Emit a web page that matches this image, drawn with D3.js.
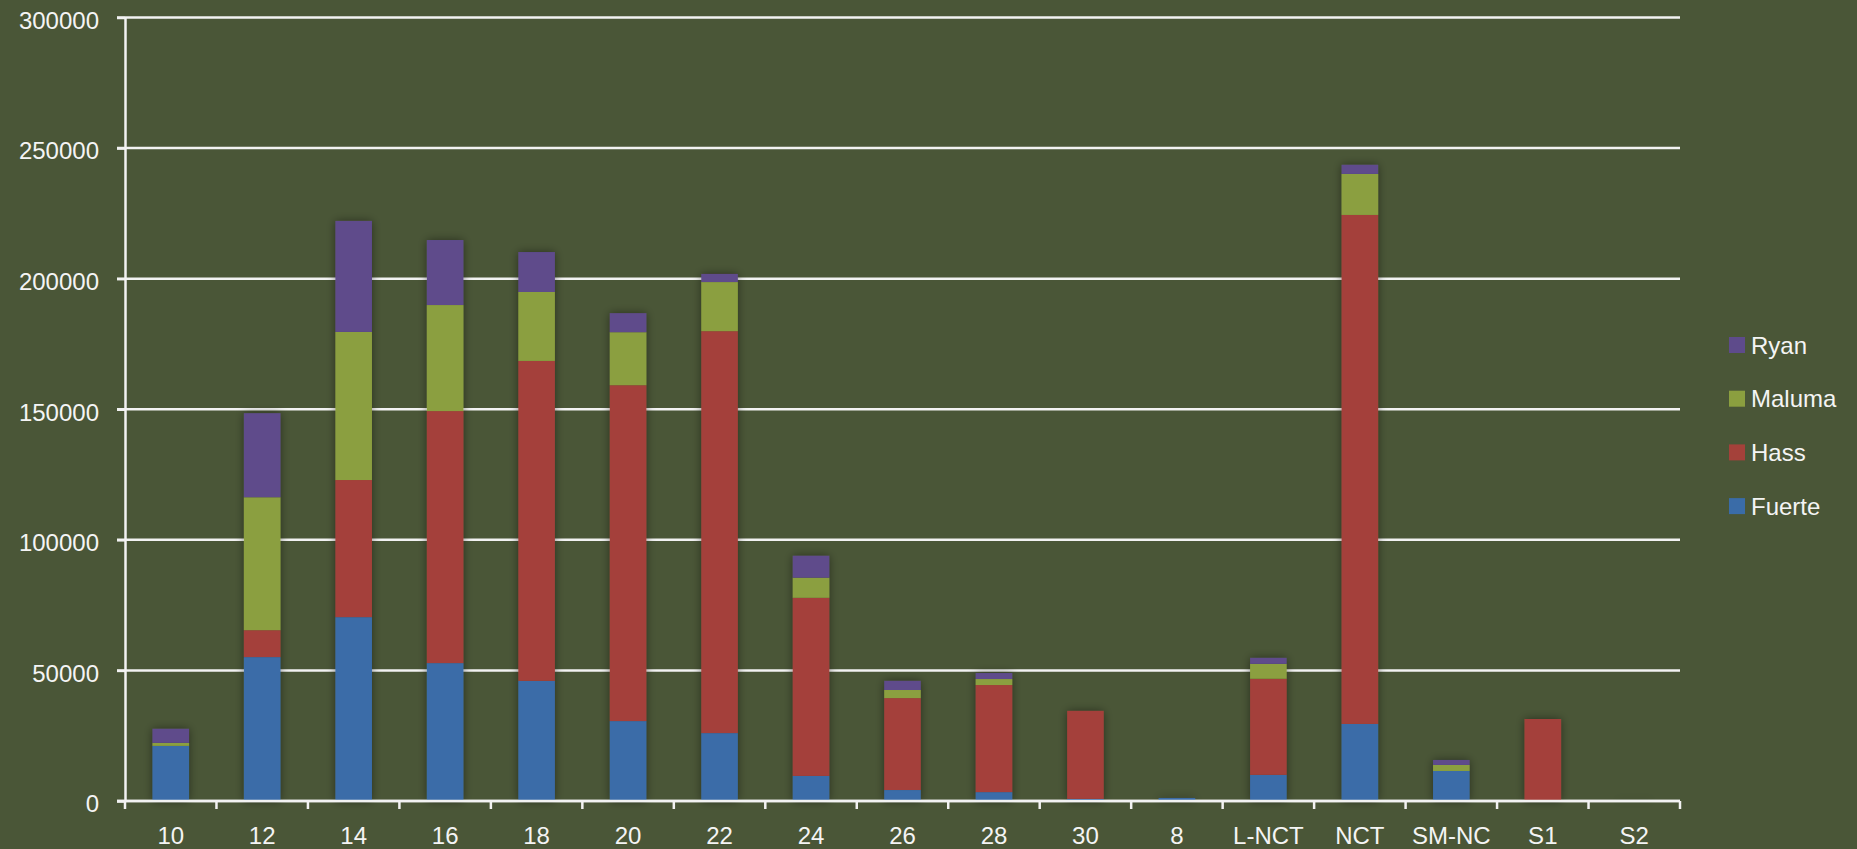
<!DOCTYPE html>
<html>
<head>
<meta charset="utf-8">
<script src="https://cdn.jsdelivr.net/npm/d3@7"></script>
<style>
  html, body { margin: 0; padding: 0; background: #4a5637; }
  svg { display: block; }
  text { font-family: "Liberation Sans", Arial, sans-serif; fill: #f4f4f4; }
</style>
</head>
<body>
<div id="chart"></div>
<script>
// categories and series
var categories = ["10","12","14","16","18","20","22","24","26","28","30","8","L-NCT","NCT","SM-NC","S1","S2"];
var fuerte = [21100, 55100, 70400, 52800, 46000, 30600, 26000, 9600, 4200, 3400, 800, 1150, 10000, 29500, 11500, 0, 0];
var hass   = [0, 10300, 52500, 96500, 122500, 128600, 153900, 68200, 35200, 41000, 33700, 0, 36800, 194900, 0, 31400, 300];
var maluma = [1150, 50900, 56700, 40600, 26400, 20300, 18800, 7700, 3100, 2300, 0, 0, 5700, 15700, 2300, 0, 0];
var ryan   = [5400, 32200, 42500, 24900, 15300, 7300, 3100, 8400, 3500, 2300, 0, 0, 2300, 3500, 1900, 0, 0];
var seriesNames = ["Fuerte", "Hass", "Maluma", "Ryan"];
var seriesColors = ["#3a6ca8", "#a4413a", "#8b9f3f", "#5e4b8b"];
var yTicks = [0, 50000, 100000, 150000, 200000, 250000, 300000];

var W = 1857, H = 849;
var plotLeft = 125, plotRight = 1680, plotTop = 17.5, plotBottom = 801;

var svg = d3.select("#chart").append("svg")
    .attr("width", W).attr("height", H);

svg.append("rect").attr("width", W).attr("height", H).attr("fill", "#4a5637");

// soft dark glow around the bars
var defs = svg.append("defs");
var f = defs.append("filter").attr("id", "shadow")
    .attr("x", "-50%").attr("y", "-10%").attr("width", "200%").attr("height", "120%");
f.append("feGaussianBlur").attr("in", "SourceAlpha").attr("stdDeviation", 5).attr("result", "blur");
f.append("feComponentTransfer").attr("in", "blur").attr("result", "sh")
  .append("feFuncA").attr("type", "linear").attr("slope", 0.45);
var merge = f.append("feMerge");
merge.append("feMergeNode").attr("in", "sh");
merge.append("feMergeNode").attr("in", "SourceGraphic");

var x = d3.scaleBand().domain(categories).range([plotLeft, plotRight])
    .paddingInner(0.6).paddingOuter(0.3);
var y = d3.scaleLinear().domain([0, 300000]).range([plotBottom, plotTop]);

// gridlines
svg.append("g").selectAll("line").data(yTicks).enter().append("line")
    .attr("x1", plotLeft - 8).attr("x2", plotRight)
    .attr("y1", function(d) { return y(d); })
    .attr("y2", function(d) { return y(d); })
    .attr("stroke", "#f2f2f2").attr("stroke-width", 2.5);

// y axis
var yAxis = svg.append("g").attr("transform", "translate(" + plotLeft + ",0)")
    .call(d3.axisLeft(y).tickValues(yTicks).tickFormat(d3.format("d")).tickSize(8).tickSizeOuter(0));
yAxis.select(".domain").attr("stroke", "#f2f2f2").attr("stroke-width", 2.5);
yAxis.selectAll(".tick line").attr("stroke", "#f2f2f2").attr("stroke-width", 2.5);
yAxis.selectAll(".tick text").attr("x", -26).attr("dy", "0.45em")
    .style("font-size", "24px").attr("fill", "#f4f4f4");

// stacked bars
var rows = categories.map(function(c, i) {
  return { cat: c, Fuerte: fuerte[i], Hass: hass[i], Maluma: maluma[i], Ryan: ryan[i] };
});
var stacked = d3.stack().keys(seriesNames)(rows);

var barsG = svg.append("g").attr("filter", "url(#shadow)");
stacked.forEach(function(layer, si) {
  barsG.append("g").attr("fill", seriesColors[si])
    .selectAll("rect").data(layer).enter().append("rect")
      .attr("x", function(d) { return x(d.data.cat); })
      .attr("width", x.bandwidth())
      .attr("y", function(d) { return y(d[1]); })
      .attr("height", function(d) { return Math.max(0, y(d[0]) - y(d[1])); });
});

// x axis: line, ticks between categories, labels centred
svg.append("line").attr("x1", plotLeft - 8).attr("x2", plotRight)
    .attr("y1", plotBottom).attr("y2", plotBottom)
    .attr("stroke", "#f2f2f2").attr("stroke-width", 2.5);
var step = x.step();
svg.append("g").selectAll("line").data(d3.range(categories.length + 1)).enter().append("line")
    .attr("x1", function(k) { return plotLeft + k * step; })
    .attr("x2", function(k) { return plotLeft + k * step; })
    .attr("y1", plotBottom).attr("y2", plotBottom + 8)
    .attr("stroke", "#f2f2f2").attr("stroke-width", 2.5);

var xAxis = svg.append("g").attr("transform", "translate(0," + plotBottom + ")")
    .call(d3.axisBottom(x).tickSize(0));
xAxis.select(".domain").remove();
xAxis.selectAll(".tick text").attr("y", 35).attr("dy", "0.35em")
    .style("font-size", "24px").attr("fill", "#f4f4f4");

// legend (top series first)
var legendNames = seriesNames.slice().reverse();
var legendColors = seriesColors.slice().reverse();
var lg = svg.append("g");
legendNames.forEach(function(n, i) {
  var cy = 345 + i * 53.7;
  lg.append("rect").attr("x", 1729).attr("y", cy - 8).attr("width", 16).attr("height", 16)
    .attr("fill", legendColors[i]);
  lg.append("text").attr("x", 1751).attr("y", cy).attr("dy", "0.36em")
    .style("font-size", "24px").text(n);
});
</script>
</body>
</html>
